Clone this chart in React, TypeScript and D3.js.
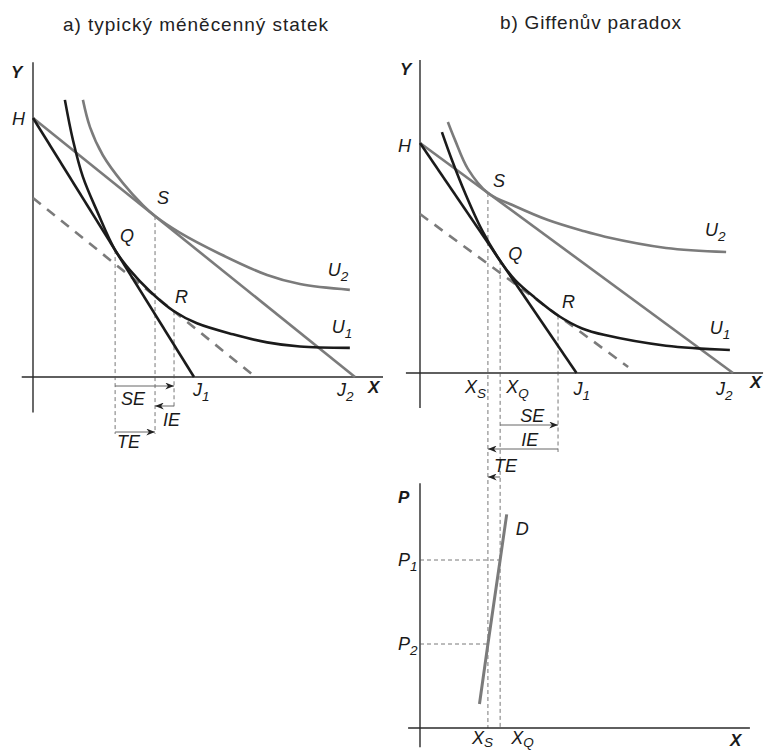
import React from "react";
import * as d3 from "d3";

type P2 = [number, number];

const WIDTH = 766;
const HEIGHT = 752;

// ---------- a) typical inferior good ----------
const budgetA1: P2[] = [[0, 8], [5, 0]]; // H – J1
const budgetA2: P2[] = [[0, 8], [10, 0]]; // H – J2
const compA: P2[] = [[0, 5.53], [6.8, 0.09]]; // compensated budget (dashed)
const u1A: P2[] = [
  [0.99, 8.56], [1.24, 7.32], [1.55, 6.18], [2.0, 5.1], [2.55, 3.92],
  [3.01, 3.3], [3.63, 2.65], [4.38, 2.03], [5.09, 1.66], [6.21, 1.32],
  [7.27, 1.07], [8.29, 0.94], [9.84, 0.9],
];
const u2A: P2[] = [
  [1.55, 8.56], [1.77, 7.72], [2.17, 6.85], [2.8, 5.98], [3.42, 5.3],
  [3.79, 4.97], [4.57, 4.45], [5.81, 3.8], [7.27, 3.15], [8.29, 2.87],
  [9.84, 2.69],
];
const optA = { Q: [2.55, 3.92] as P2, S: [3.79, 4.97] as P2, R: [4.38, 2.03] as P2 };

// ---------- b) Giffen paradox ----------
const budgetB1: P2[] = [[0, 8], [5, 0]];
const budgetB2: P2[] = [[0, 8], [10, 0]];
const compB: P2[] = [[0, 5.53], [6.65, 0.21]];
const u1B: P2[] = [
  [0.7, 8.38], [1.02, 7.41], [1.44, 6.26], [1.98, 4.97], [2.56, 3.9],
  [3.04, 3.23], [3.67, 2.62], [4.41, 2.0], [5.18, 1.55], [5.91, 1.32],
  [7.86, 0.95], [9.9, 0.8],
];
const u2B: P2[] = [
  [0.89, 8.73], [1.12, 8.1], [1.53, 7.1], [2.17, 6.26], [3.04, 5.8],
  [4.09, 5.32], [5.18, 4.95], [5.91, 4.74], [7.86, 4.35], [9.78, 4.21],
];
const optB = { Q: [2.56, 3.9] as P2, S: [2.17, 6.26] as P2, R: [4.41, 2.0] as P2 };

// demand curve D (quantity, price) and the two prices
const demandD: P2[] = [[1.9, 1.0], [2.17, 3.5], [2.56, 7.0], [2.77, 8.9]];
const priceLevels = { P1: 7, P2: 3.5 };

// ---------- scales ----------
const xA = d3.scaleLinear().domain([0, 10]).range([33, 355]);
const yA = d3.scaleLinear().domain([0, 8]).range([377, 118]);
const xB = d3.scaleLinear().domain([0, 10]).range([420, 733]);
const yB = d3.scaleLinear().domain([0, 8]).range([373, 143]);
const pB = d3.scaleLinear().domain([0, 10]).range([728, 488]);

const BLACK = "#1b1b1b";
const GRAY = "#7b7b7b";
const AXIS = "#2a2a2a";
const GUIDE = "#555";
const FONT = "'Liberation Sans', Arial, sans-serif";

function straight(sx: d3.ScaleLinear<number, number>, sy: d3.ScaleLinear<number, number>) {
  return d3.line<P2>().x((d) => sx(d[0])).y((d) => sy(d[1]));
}
function smooth(sx: d3.ScaleLinear<number, number>, sy: d3.ScaleLinear<number, number>) {
  return d3
    .line<P2>()
    .x((d) => sx(d[0]))
    .y((d) => sy(d[1]))
    .curve(d3.curveCatmullRom.alpha(0.5));
}

function Lbl(props: {
  x: number;
  y: number;
  t: string;
  sub?: string;
  bold?: boolean;
  size?: number;
  subDy?: number;
}) {
  const size = props.size ?? 18;
  return (
    <text
      x={props.x}
      y={props.y}
      fontFamily={FONT}
      fontStyle="italic"
      fontWeight={props.bold ? "bold" : "normal"}
      fontSize={size}
      fill="#1a1a1a"
    >
      {props.t}
      {props.sub && (
        <tspan fontSize={size * 0.75} dy={props.subDy ?? 5}>
          {props.sub}
        </tspan>
      )}
    </text>
  );
}

function Arrow(props: { x1: number; x2: number; y: number }) {
  return (
    <line
      x1={props.x1}
      x2={props.x2}
      y1={props.y}
      y2={props.y}
      stroke="#666"
      strokeWidth={1}
      markerEnd="url(#arr)"
    />
  );
}

function VGuide(props: { x: number; y1: number; y2: number }) {
  return (
    <line
      x1={props.x}
      x2={props.x}
      y1={props.y1}
      y2={props.y2}
      stroke={GUIDE}
      strokeWidth={0.8}
      strokeDasharray="4,3"
    />
  );
}

export default function App() {
  const lA = straight(xA, yA);
  const cA = smooth(xA, yA);
  const lB = straight(xB, yB);
  const cB = smooth(xB, yB);
  const lD = straight(xB, pB);

  // panel a reference coordinates
  const Qa = { x: xA(optA.Q[0]), y: yA(optA.Q[1]) };
  const Sa = { x: xA(optA.S[0]), y: yA(optA.S[1]) };
  const Ra = { x: xA(optA.R[0]), y: yA(optA.R[1]) };
  const axisA = yA(0);

  // panel b reference coordinates
  const Qb = { x: xB(optB.Q[0]), y: yB(optB.Q[1]) };
  const Sb = { x: xB(optB.S[0]), y: yB(optB.S[1]) };
  const Rb = { x: xB(optB.R[0]), y: yB(optB.R[1]) };
  const axisB = yB(0);
  const axisP = pB(0);

  const u1AEnd = u1A[u1A.length - 1];
  const u2AEnd = u2A[u2A.length - 1];
  const u1BEnd = u1B[u1B.length - 1];
  const u2BEnd = u2B[u2B.length - 1];

  return (
    <div style={{ position: "absolute", left: 0, top: 0, width: WIDTH, height: HEIGHT, background: "#fff" }}>
      <svg width={WIDTH} height={HEIGHT} viewBox={`0 0 ${WIDTH} ${HEIGHT}`}>
        <defs>
          <marker
            id="arr"
            viewBox="0 0 10 8"
            refX={10}
            refY={4}
            markerWidth={9}
            markerHeight={7}
            orient="auto"
            markerUnits="userSpaceOnUse"
          >
            <path d="M0,0 L10,4 L0,8 L3,4 z" fill="#222" />
          </marker>
        </defs>
        <rect width={WIDTH} height={HEIGHT} fill="#fff" />

        {/* titles */}
        <text x={63} y={31} fontFamily={FONT} fontSize={19} fill="#222" textLength={265} lengthAdjust="spacing">
          a) typický méněcenný statek
        </text>
        <text x={500} y={29} fontFamily={FONT} fontSize={19} fill="#222" textLength={181} lengthAdjust="spacing">
          b) Giffenův paradox
        </text>

        {/* ===== panel a ===== */}
        <line x1={xA(0)} x2={xA(0)} y1={yA(9.72)} y2={yA(-1.1)} stroke={AXIS} strokeWidth={1.4} />
        <line x1={xA(-0.35)} x2={xA(10.87)} y1={axisA} y2={axisA} stroke={AXIS} strokeWidth={1.4} />

        <VGuide x={Qa.x} y1={Qa.y} y2={axisA + 57} />
        <VGuide x={Sa.x} y1={Sa.y} y2={axisA + 57} />
        <VGuide x={Ra.x} y1={Ra.y} y2={axisA + 30} />

        <path d={lA(compA)!} fill="none" stroke={GRAY} strokeWidth={2.6} strokeDasharray="10,8" />
        <path d={lA(budgetA2)!} fill="none" stroke={GRAY} strokeWidth={2.6} />
        <path d={cA(u2A)!} fill="none" stroke={GRAY} strokeWidth={2.6} />
        <path d={lA(budgetA1)!} fill="none" stroke={BLACK} strokeWidth={2.6} />
        <path d={cA(u1A)!} fill="none" stroke={BLACK} strokeWidth={2.6} />

        <Arrow x1={Qa.x} x2={Ra.x} y={axisA + 9} />
        <Arrow x1={Ra.x} x2={Sa.x} y={axisA + 29} />
        <Arrow x1={Qa.x} x2={Sa.x} y={axisA + 55} />

        <Lbl x={11} y={78} t="Y" bold size={17} />
        <Lbl x={xA(0) - 21} y={yA(8) + 7} t="H" />
        <Lbl x={Sa.x + 2} y={Sa.y - 12} t="S" />
        <Lbl x={Qa.x + 5} y={Qa.y - 8} t="Q" />
        <Lbl x={Ra.x + 1} y={Ra.y - 8} t="R" />
        <Lbl x={xA(u2AEnd[0]) - 22} y={yA(u2AEnd[1]) - 14} t="U" sub="2" />
        <Lbl x={xA(u1AEnd[0]) - 18} y={yA(u1AEnd[1]) - 15} t="U" sub="1" />
        <Lbl x={xA(5) - 1} y={axisA + 19} t="J" sub="1" />
        <Lbl x={xA(10) - 18} y={axisA + 19} t="J" sub="2" />
        <Lbl x={368} y={axisA + 16} t="X" bold size={17} />
        <Lbl x={Qa.x + 6} y={axisA + 28} t="SE" />
        <Lbl x={Sa.x + 8} y={axisA + 49} t="IE" />
        <Lbl x={Qa.x + 2} y={axisA + 71} t="TE" />

        {/* ===== panel b ===== */}
        <line x1={xB(0)} x2={xB(0)} y1={yB(10.89)} y2={yB(-1.22)} stroke={AXIS} strokeWidth={1.4} />
        <line x1={xB(-0.45)} x2={xB(10.96)} y1={axisB} y2={axisB} stroke={AXIS} strokeWidth={1.4} />

        <VGuide x={Sb.x} y1={Sb.y} y2={axisP} />
        <VGuide x={Qb.x} y1={Qb.y} y2={axisP} />
        <VGuide x={Rb.x} y1={Rb.y} y2={axisB + 79} />

        <path d={lB(compB)!} fill="none" stroke={GRAY} strokeWidth={2.6} strokeDasharray="10,8" />
        <path d={lB(budgetB2)!} fill="none" stroke={GRAY} strokeWidth={2.6} />
        <path d={cB(u2B)!} fill="none" stroke={GRAY} strokeWidth={2.6} />
        <path d={lB(budgetB1)!} fill="none" stroke={BLACK} strokeWidth={2.6} />
        <path d={cB(u1B)!} fill="none" stroke={BLACK} strokeWidth={2.6} />

        <Arrow x1={Qb.x} x2={Rb.x} y={axisB + 52} />
        <Arrow x1={Rb.x} x2={Sb.x} y={axisB + 76} />
        <Arrow x1={Qb.x} x2={Sb.x} y={axisB + 104} />

        <Lbl x={400} y={75} t="Y" bold size={17} />
        <Lbl x={xB(0) - 22} y={yB(8) + 9} t="H" />
        <Lbl x={Sb.x + 5} y={Sb.y - 6} t="S" />
        <Lbl x={Qb.x + 8} y={Qb.y - 1} t="Q" />
        <Lbl x={Rb.x + 4} y={Rb.y - 8} t="R" />
        <Lbl x={xB(u2BEnd[0]) - 21} y={yB(u2BEnd[1]) - 16} t="U" sub="2" />
        <Lbl x={xB(u1BEnd[0]) - 20} y={yB(u1BEnd[1]) - 16} t="U" sub="1" />
        <Lbl x={Sb.x - 23} y={axisB + 20} t="X" sub="S" />
        <Lbl x={Qb.x + 6} y={axisB + 20} t="X" sub="Q" />
        <Lbl x={xB(5) - 3} y={axisB + 22} t="J" sub="1" />
        <Lbl x={xB(10) - 17} y={axisB + 22} t="J" sub="2" />
        <Lbl x={750} y={axisB + 15} t="X" bold size={17} />
        <Lbl x={Qb.x + 20} y={axisB + 49} t="SE" />
        <Lbl x={Qb.x + 21} y={axisB + 73} t="IE" />
        <Lbl x={Sb.x + 6} y={axisB + 99} t="TE" />

        {/* ===== demand panel ===== */}
        <line x1={xB(0)} x2={xB(0)} y1={pB(10.2)} y2={pB(-0.8)} stroke={AXIS} strokeWidth={1.4} />
        <line x1={xB(-0.38)} x2={xB(10.54)} y1={axisP} y2={axisP} stroke={AXIS} strokeWidth={1.4} />

        <line
          x1={xB(0)}
          x2={xB(optB.Q[0])}
          y1={pB(priceLevels.P1)}
          y2={pB(priceLevels.P1)}
          stroke={GUIDE}
          strokeWidth={0.8}
          strokeDasharray="4,3"
        />
        <line
          x1={xB(0)}
          x2={xB(optB.S[0])}
          y1={pB(priceLevels.P2)}
          y2={pB(priceLevels.P2)}
          stroke={GUIDE}
          strokeWidth={0.8}
          strokeDasharray="4,3"
        />
        <path d={lD(demandD)!} fill="none" stroke={GRAY} strokeWidth={3} />

        <Lbl x={398} y={503} t="P" bold size={17} />
        <Lbl x={xB(demandD[3][0]) + 9} y={pB(demandD[3][1]) + 21} t="D" />
        <Lbl x={398} y={pB(priceLevels.P1) + 6} t="P" sub="1" />
        <Lbl x={398} y={pB(priceLevels.P2) + 6} t="P" sub="2" />
        <Lbl x={Sb.x - 16} y={axisP + 16} t="X" sub="S" subDy={3} />
        <Lbl x={Qb.x + 11} y={axisP + 16} t="X" sub="Q" subDy={3} />
        <Lbl x={730} y={axisP + 18} t="X" bold size={17} />
      </svg>
    </div>
  );
}
